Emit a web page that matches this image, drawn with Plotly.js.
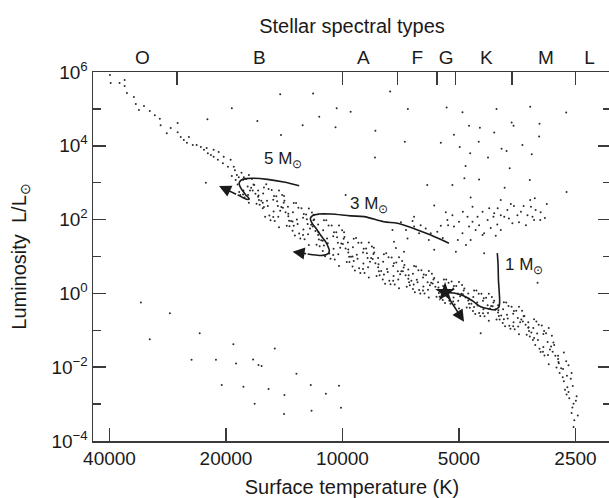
<!DOCTYPE html>
<html>
<head>
<meta charset="utf-8">
<script src="https://cdn.plot.ly/plotly-3.0.1.min.js"></script>
<style>
html,body{margin:0;padding:0;overflow:hidden;background:#fff;}
#chart{width:612px;height:498px;}
</style>
</head>
<body>
<div id="chart"></div>
<script>
// ---- axis values ----
const tempTicks = [40000, 20000, 10000, 5000, 2500];
const tempTickText = ['40000', '20000', '10000', '5000', '2500'];
const lumMajor = [1e-4, 1e-2, 1, 1e2, 1e4, 1e6];
const lumMajorText = ['10<sup>−4</sup>', '10<sup>−2</sup>', '10<sup>0</sup>', '10<sup>2</sup>', '10<sup>4</sup>', '10<sup>6</sup>'];
const lumMinor = [1e-3, 1e-1, 10, 1e3, 1e5];
const spectralLetters = ['O', 'B', 'A', 'F', 'G', 'K', 'M', 'L'];
const spectralCenters = [32900, 16400, 8830, 6410, 5400, 4250, 2980, 2300];
const spectralBounds = [26800, 10000, 7200, 5700, 5100, 3650, 2500];

// ---- stars: [log10 T, log10 L/Lsun] ----
const msUpper = [
 [4.601,5.92],[4.599,5.70],[4.576,5.70],[4.563,5.78],[4.563,5.62],[4.557,5.43],[4.539,5.32],[4.534,5.13],
 [4.526,4.97],[4.513,5.08],[4.498,4.94],[4.485,4.83],[4.472,4.73],[4.470,4.56],[4.454,4.34],[4.444,4.48],
 [4.426,4.62],[4.426,4.37],[4.418,4.24],[4.410,4.16],[4.402,4.08],[4.397,4.24],[4.387,4.02],[4.377,4.02],
 [4.366,3.97],[4.358,3.89],[4.351,3.94],[4.348,3.80],[4.340,3.75],[4.333,3.70],[4.333,3.89],[4.322,3.62],
 [4.320,3.83],[4.309,3.53],[4.307,3.70],[4.296,3.43],[4.289,3.62],[4.281,3.43],[4.278,3.34],[4.273,3.21],
 [4.268,3.15],[4.286,3.18],[4.276,3.07]
];
const msMiddle = [
 [4.267,2.75],[4.257,3.08],[4.271,2.95],[4.261,3.27],[4.264,2.67],[4.255,3.15],
 [4.245,2.90],[4.257,2.68],[4.249,3.10],[4.256,2.79],[4.242,3.21],[4.253,2.60],
 [4.244,2.67],[4.234,3.10],[4.239,2.79],[4.230,2.95],[4.242,2.46],[4.236,2.86],
 [4.228,2.94],[4.218,2.62],[4.232,2.79],[4.222,2.43],[4.225,2.70],[4.216,2.53],
 [4.206,2.31],[4.218,2.79],[4.210,2.51],[4.217,2.65],[4.203,2.87],[4.214,2.40],
 [4.205,2.71],[4.195,2.51],[4.200,2.08],[4.191,2.83],[4.203,2.34],[4.197,2.96],[4.206,2.46],
 [4.189,2.11],[4.179,2.54],[4.193,2.37],[4.183,2.80],[4.186,1.98],[4.177,2.64],
 [4.167,2.37],[4.179,2.07],[4.171,2.63],[4.178,2.22],[4.164,2.79],[4.175,1.96],[4.169,2.50],
 [4.166,2.08],[4.156,2.67],[4.161,2.24],[4.152,2.46],[4.164,1.79],[4.158,2.34],
 [4.150,2.51],[4.140,2.09],[4.154,2.32],[4.144,1.83],[4.147,2.20],[4.138,1.97],[4.151,2.64],
 [4.129,1.70],[4.141,2.35],[4.133,1.96],[4.140,2.16],[4.126,2.45],[4.137,1.82],
 [4.128,2.20],[4.118,2.00],[4.123,1.57],[4.114,2.32],[4.126,1.83],[4.120,2.45],[4.129,1.95],
 [4.112,1.62],[4.102,2.05],[4.116,1.88],[4.106,2.31],[4.109,1.49],[4.100,2.15],
 [4.090,1.88],[4.102,1.58],[4.094,2.14],[4.101,1.73],[4.087,2.30],[4.098,1.47],[4.092,2.01],
 [4.089,1.60],[4.079,2.19],[4.084,1.76],[4.075,1.98],[4.087,1.31],[4.081,1.86],
 [4.073,2.00],[4.063,1.58],[4.077,1.81],[4.067,1.32],[4.070,1.69],[4.061,1.46],[4.074,2.13],
 [4.051,1.15],[4.063,1.87],[4.055,1.44],[4.062,1.66],[4.048,1.98],[4.059,1.28],
 [4.050,1.71],[4.040,1.49],[4.045,1.01],[4.036,1.84],[4.048,1.30],[4.042,1.98],[4.051,1.43],
 [4.034,1.08],[4.024,1.55],[4.038,1.36],[4.028,1.84],[4.031,0.94],[4.022,1.66],
 [4.012,1.37],[4.024,1.04],[4.016,1.66],[4.023,1.21],[4.009,1.84],[4.020,0.92],[4.014,1.52],
 [4.011,1.06],[4.001,1.71],[4.006,1.24],[3.997,1.48],[4.009,0.74],[4.003,1.35],
 [3.995,1.53],[3.985,1.11],[3.999,1.34],[3.989,0.85],[3.992,1.22],[3.983,0.99],[3.996,1.66],
 [3.974,0.73],[3.986,1.38],[3.978,0.99],[3.985,1.19],[3.971,1.48],[3.982,0.85],
 [3.973,1.25],[3.963,1.05],[3.968,0.62],[3.959,1.37],[3.971,0.88],[3.965,1.50],[3.974,1.00],
 [3.957,0.68],[3.947,1.11],[3.961,0.94],[3.951,1.37],[3.954,0.55],[3.945,1.21],
 [3.935,0.96],[3.947,0.66],[3.939,1.22],[3.946,0.81],[3.932,1.38],[3.943,0.55],[3.937,1.09],
 [3.934,0.71],[3.924,1.27],[3.929,0.86],[3.920,1.07],[3.932,0.43],[3.926,0.96],
 [3.918,1.11],[3.908,0.71],[3.922,0.93],[3.912,0.47],[3.915,0.82],[3.906,0.60],[3.919,1.24],
 [3.896,0.38],[3.908,0.96],[3.900,0.61],[3.907,0.79],[3.893,1.06],[3.904,0.49],
 [3.895,0.86],[3.885,0.66],[3.890,0.26],[3.881,0.98],[3.893,0.51],[3.887,1.09],
 [3.879,0.34],[3.869,0.74],[3.883,0.58],[3.873,0.97],[3.876,0.25],[3.867,0.82],
 [3.857,0.60],[3.869,0.34],[3.861,0.84],[3.868,0.47],[3.854,0.98],[3.865,0.24],
 [3.856,0.38],[3.846,0.88],[3.851,0.52],[3.842,0.70],[3.854,0.14],[3.848,0.60],
 [3.840,0.77],[3.830,0.40],[3.844,0.60],[3.834,0.18],[3.837,0.49],[3.828,0.30],
 [3.818,0.12],[3.830,0.65],[3.822,0.34],[3.829,0.49],[3.815,0.74],[3.826,0.22],
 [3.818,0.53],[3.808,0.37],[3.813,0.03],[3.804,0.63],[3.816,0.24],[3.810,0.73],
 [3.802,0.09],[3.792,0.43],[3.806,0.30],[3.796,0.63],[3.799,0.00],[3.790,0.51],
 [3.780,0.30],[3.792,0.08],[3.784,0.50],[3.791,0.19],[3.777,0.61],[3.788,0.00],
 [3.779,0.10],[3.769,0.53],[3.774,0.22],[3.765,0.38],[3.777,-0.11],[3.771,0.29],
 [3.763,0.42],[3.753,0.10],[3.767,0.27],[3.757,-0.09],[3.760,0.18],[3.751,0.01],
 [3.741,-0.18],[3.753,0.30],[3.745,0.02],[3.752,0.16],[3.738,0.38],[3.749,-0.09],
 [3.740,0.20],[3.730,0.05],[3.735,-0.26],[3.726,0.29],[3.738,-0.07],[3.732,0.38],
 [3.724,-0.20],[3.714,0.13],[3.728,0.00],[3.718,0.32],[3.721,-0.28],[3.712,0.20],
 [3.702,0.00],[3.714,-0.22],[3.706,0.20],[3.713,-0.11],[3.699,0.31],[3.710,-0.30]
];
const msLower = [
 [3.701,-0.20],[3.691,0.23],[3.696,-0.08],[3.687,0.08],[3.699,-0.41],[3.693,-0.01],
 [3.685,0.13],[3.675,-0.19],[3.689,-0.02],[3.679,-0.38],[3.682,-0.11],[3.673,-0.28],
 [3.663,-0.48],[3.675,0.00],[3.667,-0.28],[3.674,-0.14],[3.660,0.08],[3.671,-0.39],
 [3.662,-0.10],[3.652,-0.25],[3.657,-0.56],[3.648,-0.01],[3.660,-0.37],[3.654,0.08],
 [3.647,-0.53],[3.637,-0.20],[3.651,-0.33],[3.641,-0.01],[3.644,-0.61],[3.635,-0.13],
 [3.625,-0.32],[3.637,-0.54],[3.629,-0.12],[3.636,-0.43],[3.622,-0.01],[3.633,-0.62],
 [3.624,-0.53],[3.614,-0.10],[3.619,-0.41],[3.610,-0.25],[3.622,-0.74],[3.616,-0.34],
 [3.608,-0.20],[3.598,-0.52],[3.612,-0.35],[3.602,-0.71],[3.605,-0.44],[3.596,-0.61],
 [3.586,-0.80],[3.598,-0.32],[3.590,-0.60],[3.597,-0.46],[3.583,-0.24],[3.594,-0.71],
 [3.585,-0.43],[3.575,-0.58],[3.580,-0.89],[3.571,-0.34],[3.583,-0.70],[3.577,-0.25],
 [3.569,-0.88],[3.559,-0.55],[3.573,-0.68],[3.563,-0.36],[3.566,-0.96],[3.557,-0.48],
 [3.547,-0.67],[3.559,-0.89],[3.551,-0.47],[3.558,-0.78],[3.544,-0.36],[3.555,-0.97],
 [3.546,-0.90],[3.536,-0.47],[3.541,-0.78],[3.532,-0.62],[3.544,-1.11],[3.538,-0.71],
 [3.530,-0.61],[3.520,-0.93],[3.534,-0.76],[3.524,-1.12],[3.527,-0.85],[3.518,-1.02],
 [3.508,-1.26],[3.520,-0.78],[3.512,-1.06],[3.519,-0.92],[3.505,-0.70],[3.516,-1.17],
 [3.507,-0.94],[3.497,-1.09],[3.502,-1.40],[3.493,-0.85],[3.505,-1.21],[3.499,-0.76],
 [3.491,-1.50],[3.481,-1.10],[3.495,-1.26],[3.485,-0.87],[3.488,-1.59],[3.479,-1.02],
 [3.470,-1.32],[3.482,-1.58],[3.474,-1.08],[3.481,-1.45],[3.467,-0.94],[3.478,-1.68],
 [3.469,-1.67],[3.459,-1.15],[3.464,-1.52],[3.455,-1.33],[3.467,-1.92],[3.461,-1.44],
 [3.453,-1.40],[3.443,-1.78],[3.457,-1.58],[3.447,-2.01],[3.450,-1.69],[3.441,-1.89],
 [3.431,-2.27],[3.443,-1.69],[3.435,-2.03],[3.442,-1.86],[3.428,-1.60],[3.439,-2.16],
 [3.430,-2.05],[3.420,-2.23],[3.425,-2.61],[3.416,-1.95],[3.428,-2.38],[3.422,-1.84],
 [3.419,-2.54],[3.410,-2.31],[3.421,-2.74],[3.408,-2.16],
 [3.414,-2.84],[3.405,-2.51],[3.416,-2.67],[3.403,-2.99],
 [3.406,-3.09],[3.397,-2.91],[3.408,-3.24],[3.395,-2.79],
 [3.401,-3.44],[3.392,-3.31],[3.403,-3.62]
];
const giants = [
 [3.819,1.96],[3.802,1.63],[3.785,1.76],[3.772,1.63],[3.755,1.67],[3.729,1.99],[3.727,1.85],[3.716,2.12],
 [3.712,1.81],[3.699,1.94],[3.690,1.63],[3.677,2.08],[3.673,1.81],[3.664,1.94],[3.651,2.08],[3.647,1.85],
 [3.638,2.21],[3.634,1.63],[3.625,1.99],[3.621,2.31],[3.610,2.08],[3.608,2.17],[3.600,1.87],[3.591,2.12],
 [3.582,2.08],[3.574,2.26],[3.570,2.03],[3.561,1.90],[3.557,2.37],[3.548,2.12],[3.539,2.21],[3.526,1.85],
 [3.522,2.12],[3.513,2.35],[3.509,2.08],[3.505,1.99],[3.501,2.26],[3.489,1.99],[3.591,1.72],[3.638,1.58],
 [3.669,1.45],[3.815,1.81],[3.832,1.49],[3.867,1.40],[3.841,1.13],[3.871,1.72],[3.763,1.18],[3.707,1.13],
 [3.634,1.09],[3.664,2.35],[3.815,2.08],[3.849,1.93],[3.836,1.72],[3.798,1.85],[3.746,1.83],[3.741,1.50],
 [3.702,1.45],[3.689,2.21],[3.656,1.72],[3.617,1.77],[3.599,2.31],[3.565,2.42],[3.544,1.93],[3.532,2.37],
 [3.488,2.20],[3.477,2.04],[3.604,1.56],[3.681,1.31],[3.733,2.20],[3.777,1.45],[3.862,1.23],
 [3.472,2.42],[3.503,2.58],[3.515,2.53],[3.591,2.53],[3.669,2.60],[3.763,2.38],[3.421,2.75],[3.581,2.86],
 [3.781,2.94],[3.716,2.94],[3.516,3.07],[3.647,3.09],[3.685,3.12],[3.682,3.45],[3.568,3.39],[3.916,3.68],
 [3.624,3.68],[3.670,3.80],[3.511,3.77],[3.589,3.92],[3.576,3.86],[3.535,4.02],[3.697,3.97],[3.648,4.11],
 [3.746,4.08],[3.839,4.11],[3.492,4.25],[3.608,4.36],[3.712,4.30],[3.673,4.54],[3.645,4.49],[3.563,4.63],
 [3.558,4.54],[3.491,4.60],[3.915,4.41],[4.018,4.50],[3.877,5.47],[4.015,5.02],[3.979,4.92],[3.831,5.00],
 [3.731,5.04],[3.690,4.91],[3.602,5.00],[3.515,5.06],[3.422,4.90],[3.992,2.67],
 [4.161,5.40],[4.076,5.42],[4.286,5.02],[4.349,4.72],[4.220,4.67],[4.103,4.56],[4.060,4.79],[4.159,4.29],
 [4.353,3.00]
];
const dwarfs = [
 [4.521,-0.25],[4.446,-0.54],[4.498,-1.24],[4.369,-1.08],[4.282,-1.38],[4.175,-1.49],[4.390,-1.80],[4.327,-1.80],
 [4.275,-1.90],[4.231,-1.79],[4.217,-1.94],[4.209,-1.97],[4.119,-2.18],[4.312,-2.48],[4.256,-2.53],[4.191,-2.59],
 [4.082,-2.48],[4.150,-2.75],[4.043,-2.72],[4.009,-2.50],[4.227,-2.99],[4.151,-3.27],[4.080,-3.18],[4.004,-3.10],
 [3.496,0.29],[3.643,-1.08]
];

// ---- evolutionary tracks [log10 T, log10 L] ----
const track5 = [[4.112,2.92],[4.152,3.02],[4.194,3.09],[4.229,3.12],[4.250,3.11],[4.262,3.07],[4.267,2.99],
 [4.264,2.88],[4.258,2.78],[4.250,2.67],[4.241,2.56],[4.247,2.55],[4.258,2.60],[4.271,2.67]];
const arrow5 = [[4.271,2.67],[4.319,2.91]];
const track3 = [[3.725,1.36],[3.772,1.58],[3.806,1.72],[3.858,1.90],[3.893,1.94],[3.944,2.08],[3.979,2.10],
 [4.030,2.15],[4.061,2.15],[4.077,2.11],[4.083,2.03],[4.078,1.89],[4.069,1.77],[4.060,1.63],[4.051,1.50],
 [4.043,1.39],[4.037,1.26],[4.034,1.15],[4.038,1.07],[4.051,1.03],[4.069,1.04],[4.090,1.07]];
const arrow3 = [[4.090,1.07],[4.129,1.13]];
const track1 = [[3.600,1.09],[3.598,0.77],[3.597,0.36],[3.595,0.04],[3.594,-0.23],[3.596,-0.37],[3.606,-0.44],
 [3.622,-0.42],[3.643,-0.36],[3.663,-0.21],[3.686,-0.07],[3.712,0.01],[3.731,0.02]];
const sun = [3.735, 0.03];
const arrow1 = [[3.735,0.03],[3.686,-0.77]];
const trackLabels = [['5 M<sub>⊙</sub>',4.155,3.62],['3 M<sub>⊙</sub>',3.932,2.39],['1 M<sub>⊙</sub>',3.532,0.75]];

// ---- build ----
const pow = v => Math.pow(10, v);
const allStars = msUpper.concat(msMiddle, msLower, giants, dwarfs);
const FONT = 'Liberation Sans, Arial, Helvetica, sans-serif';
const INK = '#1a1a1a';
const AX = '#3a3a3a';

const traces = [
 {type:'scatter', mode:'markers', x: allStars.map(p=>pow(p[0])), y: allStars.map(p=>pow(p[1])),
  marker:{size:2, color:'#2a2a2a'}, hoverinfo:'skip', showlegend:false},
 {type:'scatter', mode:'lines', x: track5.map(p=>pow(p[0])), y: track5.map(p=>pow(p[1])),
  line:{color:INK, width:1.6, shape:'spline'}, hoverinfo:'skip', showlegend:false},
 {type:'scatter', mode:'lines', x: track3.map(p=>pow(p[0])), y: track3.map(p=>pow(p[1])),
  line:{color:INK, width:1.6, shape:'spline'}, hoverinfo:'skip', showlegend:false},
 {type:'scatter', mode:'lines', x: track1.map(p=>pow(p[0])), y: track1.map(p=>pow(p[1])),
  line:{color:INK, width:1.6, shape:'spline'}, hoverinfo:'skip', showlegend:false},
 {type:'scatter', mode:'markers', x:[pow(sun[0])], y:[pow(sun[1])],
  marker:{symbol:'star', size:15, color:INK}, hoverinfo:'skip', showlegend:false},
 {type:'scatter', mode:'markers', x:[spectralCenters[0]], y:[1], xaxis:'x2',
  marker:{opacity:0}, hoverinfo:'skip', showlegend:false},
 {type:'scatter', mode:'markers', x:[tempTicks[0]], y:[lumMinor[0]], yaxis:'y2',
  marker:{opacity:0}, hoverinfo:'skip', showlegend:false}
];

function arrowAnn(a){
 return {x:a[1][0], y:a[1][1], ax:a[0][0], ay:a[0][1], xref:'x', yref:'y', axref:'x', ayref:'y',
  showarrow:true, arrowhead:2, arrowsize:1.5, arrowwidth:1.6, arrowcolor:INK, text:'', standoff:0, startstandoff:0};
}
const annotations = [arrowAnn(arrow5), arrowAnn(arrow3), arrowAnn(arrow1)].concat(
 trackLabels.map(t => ({x:t[1], y:t[2], xref:'x', yref:'y', text:t[0], showarrow:false,
   font:{family:FONT, size:17, color:INK}, xanchor:'center', yanchor:'middle'})));

const layout = {
 width:612, height:498,
 margin:{l:93, r:1, t:72, b:57},
 paper_bgcolor:'#fff', plot_bgcolor:'#fff',
 font:{family:FONT, color:INK, size:19},
 showlegend:false,
 title:{text:'Stellar spectral types', font:{family:FONT, size:20, color:INK},
  xref:'paper', x:0.5, xanchor:'center', yref:'container', y:1-26/498, yanchor:'middle'},
 xaxis:{type:'log', range:[4.6447, 3.3062], tickvals:tempTicks, ticktext:tempTickText,
  ticks:'inside', ticklen:13, tickwidth:1.5, tickcolor:AX,
  showline:true, linecolor:AX, linewidth:1.5, mirror:true, showgrid:false, zeroline:false,
  tickfont:{family:FONT, size:19, color:INK},
  title:{text:'Surface temperature (K)', font:{family:FONT, size:20, color:INK}, standoff:12}},
 xaxis2:{type:'log', overlaying:'x', side:'top', anchor:'y', range:[4.6447, 3.3062],
  tickvals:spectralCenters, ticktext:spectralLetters, ticks:'', showline:false, showgrid:false, zeroline:false,
  tickfont:{family:FONT, size:19, color:INK}, ticklabelstandoff:3,
  minor:{tickvals:spectralBounds, ticks:'inside', ticklen:13, tickwidth:1.5, tickcolor:AX, showgrid:false}},
 yaxis:{type:'log', range:[-4, 6], tickvals:lumMajor, ticktext:lumMajorText,
  ticks:'inside', ticklen:13, tickwidth:1.5, tickcolor:AX,
  showline:true, linecolor:AX, linewidth:1.5, mirror:'ticks', showgrid:false, zeroline:false,
  tickfont:{family:FONT, size:19, color:INK},
  minor:{tickvals:lumMinor, ticks:'inside', ticklen:8, tickwidth:1.5, tickcolor:AX, showgrid:false},
  title:{text:'Luminosity\u00a0\u00a0L/L<sub>⊙</sub>', font:{family:FONT, size:20, color:INK}, standoff:19}},
 yaxis2:{type:'log', overlaying:'y', side:'right', anchor:'x', range:[-4, 6], tickvals:lumMinor,
  ticks:'inside', ticklen:8, tickwidth:1.5, tickcolor:AX, showticklabels:false,
  showline:false, showgrid:false, zeroline:false},
 annotations: annotations
};

Plotly.newPlot('chart', traces, layout, {staticPlot:true, displayModeBar:false});
</script>
</body>
</html>
